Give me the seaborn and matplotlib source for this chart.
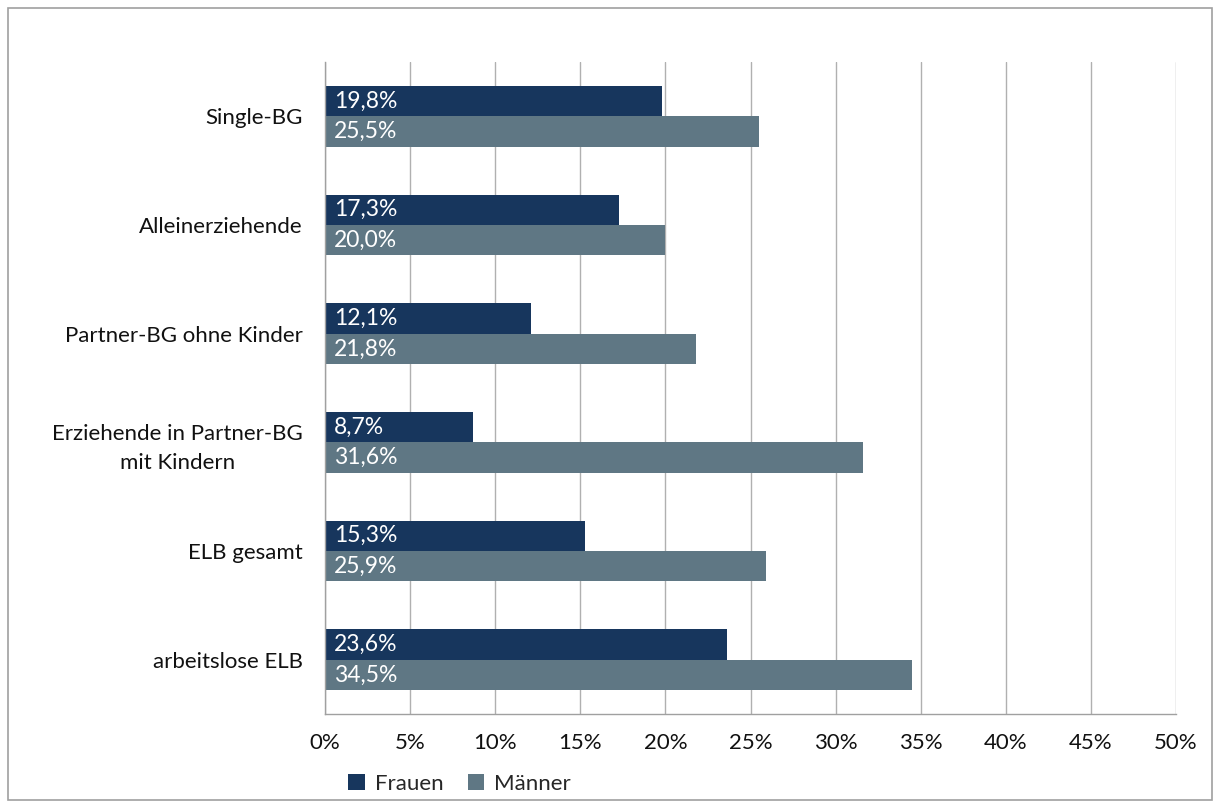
import matplotlib
matplotlib.use("Agg")
import matplotlib.pyplot as plt
import seaborn as sns
import pandas as pd
from matplotlib.patches import Rectangle

categories = ["Single-BG", "Alleinerziehende", "Partner-BG ohne Kinder",
              "Erziehende in Partner-BG\nmit Kindern", "ELB gesamt", "arbeitslose ELB"]
frauen = [19.8, 17.3, 12.1, 8.7, 15.3, 23.6]
maenner = [25.5, 20.0, 21.8, 31.6, 25.9, 34.5]
series = ["Frauen", "Männer"]
xticks = [0, 5, 10, 15, 20, 25, 30, 35, 40, 45, 50]

df = pd.DataFrame({
    "Kategorie": categories * 2,
    "Wert": frauen + maenner,
    "Geschlecht": [series[0]] * len(categories) + [series[1]] * len(categories),
})

sns.set_style("white")
plt.rcParams['font.family'] = ['Lato', 'DejaVu Sans']

fig = plt.figure(figsize=(12.14, 8.01), dpi=100)
ax = fig.add_axes([325/1214, 1-714/801, (1176-325)/1214, (714-62)/801])

colors = {"Frauen": "#17365d", "Männer": "#5f7784"}
sns.barplot(data=df, y="Kategorie", x="Wert", hue="Geschlecht", order=categories,
            hue_order=series, palette=colors, orient="h", width=0.56, ax=ax,
            saturation=1, errorbar=None, linewidth=0)

for cont in ax.containers:
    for bar, val in zip(cont, cont.datavalues):
        ax.text(bar.get_x() + 0.55, bar.get_y() + bar.get_height()/2,
                f"{val:.1f}%".replace(".", ","), color="white", va="center",
                ha="left", fontsize=16.5)

ax.set_xlim(0, 50)
ax.set_ylim(len(categories) - 0.5, -0.5)
ax.set_xticks(xticks)
ax.set_xticklabels([f"{t}%" for t in xticks], fontsize=16, color="#111111")
ax.set_xlabel("")
ax.set_ylabel("")
ax.xaxis.grid(True, color="#b0b0b0", linewidth=1)
ax.set_axisbelow(True)
ax.set_yticks(range(len(categories)))
ax.set_yticklabels(categories, fontsize=16, color="#111111", ha="right",
                   multialignment="center", linespacing=1.55)
ax.tick_params(axis="y", length=0, pad=16)
ax.tick_params(axis="x", length=6, color="#a0a0a0", width=1, pad=8)
# minor ticks at category boundaries on y
ax.set_yticks([i - 0.5 for i in range(len(categories) + 1)], minor=True)
ax.tick_params(axis="y", which="minor", length=6, color="#a0a0a0", width=1)

for s in ["top", "right"]:
    ax.spines[s].set_visible(False)
for s in ["left", "bottom"]:
    ax.spines[s].set_color("#a0a0a0")
    ax.spines[s].set_linewidth(1)

leg = ax.legend(loc="upper left", bbox_to_anchor=(328/1214, 1-754/801),
                bbox_transform=fig.transFigure, ncol=2, frameon=False,
                fontsize=16, handlelength=0.75, handleheight=0.75,
                handletextpad=0.45, columnspacing=1.1)

fig.patches.append(Rectangle((8/1214, 1/801), 1204/1214, 792/801, transform=fig.transFigure,
                             fill=False, edgecolor="#a0a0a0", linewidth=1.2))

fig.savefig("out.png", dpi=100)
